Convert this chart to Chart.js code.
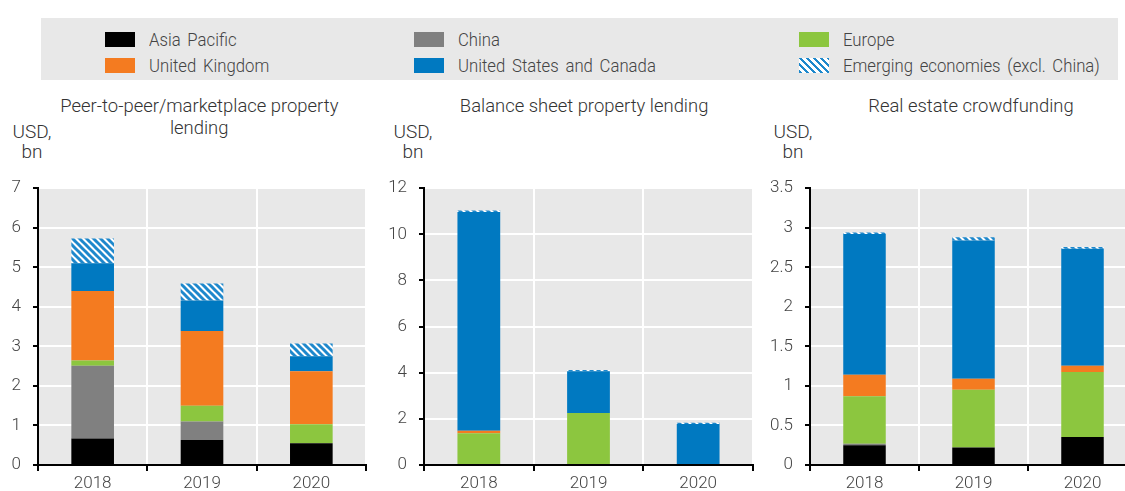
<!DOCTYPE html>
<html>
<head>
<meta charset="utf-8">
<script src="https://cdn.jsdelivr.net/npm/chart.js@4.4.1/dist/chart.umd.min.js"></script>
<style>
  html, body { margin: 0; padding: 0; background: #fff; overflow: hidden; width: 1125px; height: 491px; }
  body { position: relative; font-family: 'Roboto', sans-serif; font-weight: 300; color: #444; }
  #legend { position: absolute; left: 41px; top: 18px; width: 1077px; height: 62px; background: #e8e8e8; }
  .item { position: absolute; font-size: 19px; line-height: 20px; white-space: nowrap; }
  .item span.sw { position: absolute; left: 0; top: 2px; width: 30px; height: 15px; }
  .item span.tx { position: absolute; left: 44px; top: 0; word-spacing: 3px; transform: scaleX(0.88); transform-origin: left center; }
  .title { position: absolute; font-size: 19px; line-height: 22px; text-align: center; color: #333; }
  .title span { display: inline-block; transform: scaleX(0.97); }
  .unit { position: absolute; font-size: 19px; line-height: 20px; text-align: center; width: 50px; color: #333; }
  canvas { position: absolute; }
</style>
</head>
<body>
<div id="legend"></div>

<div class="title" style="left:39px; top:95px; width:320px;"><span>Peer-to-peer/marketplace property</span><br><span>lending</span></div>
<div class="title" style="left:424px; top:95px; width:320px;"><span>Balance sheet property lending</span></div>
<div class="title" style="left:811px; top:95px; width:320px;"><span>Real estate crowdfunding</span></div>

<div class="unit" style="left:7px; top:122px;">USD,<br>bn</div>
<div class="unit" style="left:388px; top:122px;">USD,<br>bn</div>
<div class="unit" style="left:768px; top:122px;">USD,<br>bn</div>

<canvas id="c1" width="380" height="325" style="left:0px; top:166px;"></canvas>
<canvas id="c2" width="380" height="325" style="left:380px; top:166px;"></canvas>
<canvas id="c3" width="377" height="325" style="left:760px; top:166px;"></canvas>

<script>
const years = ['2018', '2019', '2020'];
const seriesNames = ['Asia Pacific', 'China', 'Europe', 'United Kingdom', 'United States and Canada', 'Emerging economies (excl. China)'];
const seriesColors = ['#000000', '#808080', '#8cc63f', '#f47b20', '#0079c1', 'hatch'];

// Peer-to-peer/marketplace property lending
const p2pAsiaPacific = [0.67, 0.63, 0.55];
const p2pChina = [1.84, 0.47, 0];
const p2pEurope = [0.13, 0.40, 0.48];
const p2pUK = [1.76, 1.89, 1.34];
const p2pUSCanada = [0.70, 0.77, 0.38];
const p2pEmerging = [0.63, 0.43, 0.32];

// Balance sheet property lending
const bsAsiaPacific = [0, 0, 0];
const bsChina = [0, 0, 0];
const bsEurope = [1.38, 2.25, 0];
const bsUK = [0.11, 0, 0];
const bsUSCanada = [9.48, 1.81, 1.78];
const bsEmerging = [0.06, 0.06, 0.05];

// Real estate crowdfunding
const cfAsiaPacific = [0.25, 0.22, 0.355];
const cfChina = [0.02, 0, 0];
const cfEurope = [0.60, 0.73, 0.82];
const cfUK = [0.27, 0.14, 0.08];
const cfUSCanada = [1.78, 1.75, 1.48];
const cfEmerging = [0.02, 0.04, 0.02];

// hatch pattern for emerging economies
function makeHatch() {
    const size = 7;
    const pc = document.createElement('canvas');
    pc.width = size; pc.height = size;
    const g = pc.getContext('2d');
    g.fillStyle = '#ffffff';
    g.fillRect(0, 0, size, size);
    g.strokeStyle = '#1e88cc';
    g.lineWidth = 3;
    for (let c = -size; c <= size; c += size) {
        g.beginPath();
        g.moveTo(c - 1, -1);
        g.lineTo(c + size + 1, size + 1);
        g.stroke();
    }
    return g.createPattern(pc, 'repeat');
}
const hatch = makeHatch();

// legend
const legendEl = document.getElementById('legend');
const legendPos = [[64, 12], [373, 12], [758, 12], [64, 38], [373, 38], [758, 38]];
seriesNames.forEach((name, i) => {
    const div = document.createElement('div');
    div.className = 'item';
    div.style.left = legendPos[i][0] + 'px';
    div.style.top = legendPos[i][1] + 'px';
    const bg = seriesColors[i] === 'hatch'
        ? 'repeating-linear-gradient(45deg, #1e88cc 0px, #1e88cc 2.5px, #fff 2.5px, #fff 5px)'
        : seriesColors[i];
    div.innerHTML = `<span class="sw" style="background:${bg}"></span><span class="tx">${name}</span>`;
    legendEl.appendChild(div);
});

const plotBg = {
    id: 'plotBg',
    beforeDraw(chart) {
        const a = chart.chartArea;
        const ctx = chart.ctx;
        ctx.save();
        ctx.fillStyle = '#e8e8e8';
        ctx.fillRect(a.left, a.top, a.right - a.left, a.bottom - a.top);
        ctx.restore();
    }
};

const font = { family: "'Roboto', sans-serif", size: 17, weight: '300' };

function makeChart(id, data, yMax, yStep, yWidth, padRight) {
    const datasets = data.map((vals, i) => ({
        label: seriesNames[i],
        data: vals,
        backgroundColor: seriesColors[i] === 'hatch' ? hatch : seriesColors[i],
        borderWidth: 0,
        barPercentage: 0.39,
        categoryPercentage: 1
    }));
    return new Chart(document.getElementById(id), {
        type: 'bar',
        data: { labels: years, datasets: datasets },
        options: {
            responsive: false,
            animation: false,
            devicePixelRatio: 1,
            layout: { padding: { top: 5, right: padRight, left: 0, bottom: 0 } },
            plugins: { legend: { display: false }, tooltip: { enabled: false } },
            scales: {
                x: {
                    stacked: true,
                    grid: { color: '#ffffff', lineWidth: 2, tickColor: '#000', tickLength: 6, offset: true },
                    border: { color: '#000', width: 2 },
                    ticks: { color: '#444', font: font, padding: 3 },
                    afterFit: s => { s.height = 26; }
                },
                y: {
                    stacked: true,
                    min: 0,
                    max: yMax,
                    grid: { color: '#ffffff', lineWidth: 2, tickColor: '#000', tickLength: 5 },
                    border: { color: '#000', width: 2 },
                    ticks: { stepSize: yStep, color: '#444', font: font, padding: 12, callback: v => String(v) },
                    afterFit: s => { s.width = yWidth; }
                }
            }
        },
        plugins: [plotBg]
    });
}

makeChart('c1', [p2pAsiaPacific, p2pChina, p2pEurope, p2pUK, p2pUSCanada, p2pEmerging], 7, 1, 38, 14);
makeChart('c2', [bsAsiaPacific, bsChina, bsEurope, bsUK, bsUSCanada, bsEmerging], 12, 2, 44, 7);
makeChart('c3', [cfAsiaPacific, cfChina, cfEurope, cfUK, cfUSCanada, cfEmerging], 3.5, 0.5, 50, 0);
</script>
</body>
</html>
